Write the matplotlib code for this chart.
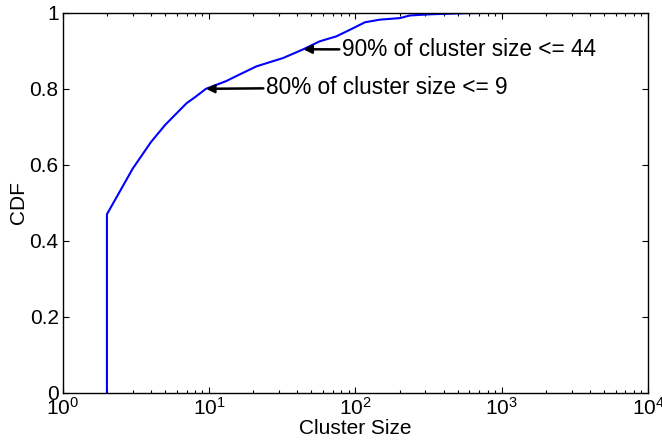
import matplotlib
matplotlib.use("Agg")
import matplotlib.pyplot as plt

# values
cluster_size = [2, 2, 3, 4, 5, 6, 7, 8, 9.5, 13, 16, 21, 32, 44, 57, 74, 97, 116, 147, 201, 236, 323, 575, 1000, 2000]
cdf = [0.0, 0.47, 0.59, 0.66, 0.705, 0.736, 0.762, 0.778, 0.80, 0.82, 0.837, 0.859, 0.881, 0.904, 0.925, 0.938, 0.96, 0.975, 0.982, 0.986, 0.993, 0.996, 0.999, 1.0, 1.0]

notes = ["90% of cluster size <= 44", "80% of cluster size <= 9"]
note_points = [(44, 0.904), (9.5, 0.80)]
note_text_pos = [(81, 0.903), (24.5, 0.804)]

plt.rcParams["font.family"] = ["Liberation Sans", "DejaVu Sans"]
plt.rcParams["mathtext.default"] = "regular"
plt.rcParams["font.size"] = 15


def plot_cdf():
    fig = plt.figure(figsize=(6.62, 4.41), dpi=100)
    ax = fig.add_axes([0.095, 0.109, 0.884, 0.862])

    ax.semilogx(cluster_size, cdf, color="#0000ff", linewidth=1.5)

    for text, xy, xytext in zip(notes, note_points, note_text_pos):
        ax.annotate(text, xy=xy, xytext=xytext, va="center", ha="left",
                    fontsize=16.3,
                    arrowprops=dict(arrowstyle="-|>", color="black", lw=1.8,
                                    mutation_scale=12, shrinkA=0, shrinkB=0))

    ax.set_xlim(1, 1e4)
    ax.set_ylim(0, 1)
    ax.set_yticks([0, 0.2, 0.4, 0.6, 0.8, 1])
    ax.set_yticklabels(["0", "0.2", "0.4", "0.6", "0.8", "1"])
    ax.set_xlabel("Cluster Size", labelpad=0)
    ax.set_ylabel("CDF", labelpad=1)

    ax.tick_params(which="both", direction="in", top=True, right=True, width=0.8)
    ax.tick_params(which="major", length=4, pad=3)
    ax.tick_params(which="minor", length=2.2)
    for s in ax.spines.values():
        s.set_linewidth(1.0)

    fig.savefig("out.png", dpi=100)


if __name__ == "__main__":
    plot_cdf()
